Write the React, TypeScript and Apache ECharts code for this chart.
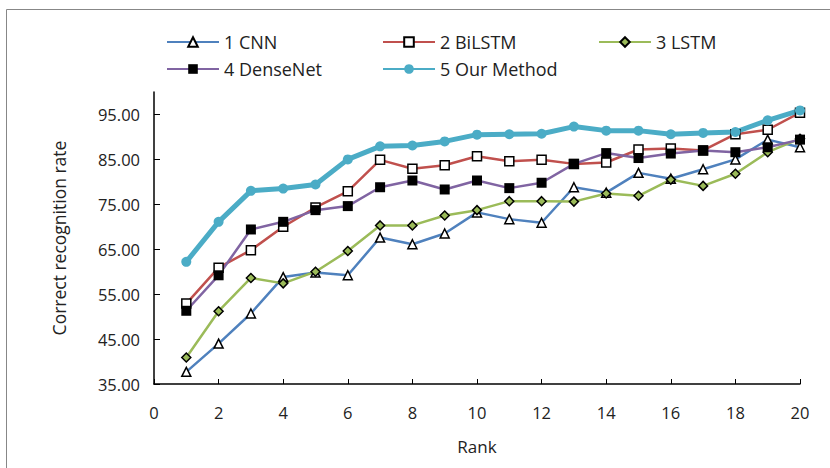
import React, { useEffect, useRef } from "react";
import * as echarts from "echarts";

const ranks = [1, 2, 3, 4, 5, 6, 7, 8, 9, 10, 11, 12, 13, 14, 15, 16, 17, 18, 19, 20];
const cnn = [37.7, 44.0, 50.7, 58.8, 59.8, 59.2, 67.6, 66.1, 68.5, 73.2, 71.7, 70.9, 78.8, 77.6, 82.0, 80.7, 82.8, 85.0, 89.4, 87.7];
const bilstm = [52.9, 60.9, 64.8, 70.0, 74.3, 77.9, 84.9, 82.9, 83.7, 85.7, 84.6, 84.9, 84.0, 84.3, 87.2, 87.4, 87.0, 90.6, 91.6, 95.4];
const lstm = [40.9, 51.2, 58.6, 57.4, 60.0, 64.6, 70.3, 70.3, 72.5, 73.7, 75.7, 75.7, 75.6, 77.4, 76.9, 80.5, 79.1, 81.8, 86.6, 89.6];
const densenet = [51.3, 59.2, 69.4, 71.1, 73.7, 74.6, 78.8, 80.3, 78.3, 80.3, 78.6, 79.8, 84.0, 86.4, 85.3, 86.3, 87.0, 86.6, 87.7, 89.4];
const ours = [62.2, 71.1, 78.0, 78.5, 79.4, 85.0, 87.9, 88.1, 89.0, 90.5, 90.6, 90.7, 92.3, 91.4, 91.4, 90.6, 90.9, 91.1, 93.7, 95.9];
const seriesNames = ["1 CNN", "2 BiLSTM", "3 LSTM", "4 DenseNet", "5 Our Method"];

const FONT = "Open Sans";

const pairs = (vals: number[]) => ranks.map((r, i) => [r, vals[i]]);

export default function App() {
  const ref = useRef<HTMLDivElement>(null);
  useEffect(() => {
    if (!ref.current) return;
    const chart = echarts.init(ref.current, undefined, { renderer: "svg" });
    const mk = (
      name: string,
      vals: number[],
      color: string,
      symbol: string,
      size: number,
      fill: string,
      border: string,
      lw: number
    ) => ({
      name,
      type: "line",
      data: pairs(vals),
      symbol,
      symbolSize: size,
      showAllSymbol: true,
      lineStyle: { color, width: lw },
      itemStyle: { color: fill, borderColor: border, borderWidth: border === fill ? 0 : 1.5 },
      z: 2,
    });
    const legendPos = [
      { left: 161, top: 28 },
      { left: 377, top: 28 },
      { left: 593, top: 28 },
      { left: 161, top: 55 },
      { left: 377, top: 55 },
    ];
    chart.setOption({
      animation: false,
      textStyle: { fontFamily: FONT },
      grid: { left: 154, right: 30, top: 92, bottom: 84 },
      legend: seriesNames.map((n, i) => ({
        data: [n],
        left: legendPos[i].left,
        top: legendPos[i].top,
        itemWidth: 52,
        itemHeight: 12,
        itemGap: 5,
        textStyle: { fontFamily: FONT, fontSize: 18, color: "#222" },
        selectedMode: false,
      })),
      xAxis: {
        type: "value",
        min: 0,
        max: 20,
        interval: 2,
        name: "Rank",
        nameLocation: "middle",
        nameGap: 54,
        nameTextStyle: { fontFamily: FONT, fontSize: 17, color: "#222" },
        axisLine: { show: true, lineStyle: { color: "#000", width: 1.5 } },
        axisTick: { show: true, inside: true, length: 5, lineStyle: { color: "#000", width: 1 } },
        axisLabel: { fontFamily: FONT, fontSize: 16.5, color: "#222", margin: 20 },
        splitLine: { show: false },
      },
      yAxis: {
        type: "value",
        min: 35,
        max: 100,
        interval: 10,
        name: "Correct recognition rate",
        nameLocation: "middle",
        nameGap: 86,
        nameRotate: 90,
        nameTextStyle: { fontFamily: FONT, fontSize: 17.5, color: "#222" },
        axisLine: { show: true, lineStyle: { color: "#000", width: 1.5 } },
        axisTick: { show: true, inside: true, length: 6, lineStyle: { color: "#000", width: 1 } },
        axisLabel: {
          fontFamily: FONT,
          fontSize: 16.5,
          color: "#222",
          margin: 14,
          showMaxLabel: false,
          formatter: (v: number) => (v >= 100 ? "" : v.toFixed(2)),
        },
        splitLine: { show: false },
      },
      graphic: [
        { type: "line", shape: { x1: 6.5, y1: 9.5, x2: 830, y2: 9.5 }, style: { stroke: "#878787", lineWidth: 1 } },
        { type: "line", shape: { x1: 6.5, y1: 9.5, x2: 6.5, y2: 468 }, style: { stroke: "#878787", lineWidth: 1 } },
      ],
      series: [
        mk(seriesNames[0], cnn, "#4F81BD", "triangle", 9, "#fff", "#000", 2.5),
        mk(seriesNames[1], bilstm, "#C0504D", "rect", 9, "#fff", "#000", 2.5),
        mk(seriesNames[2], lstm, "#9BBB59", "diamond", 9, "#9BBB59", "#000", 2.5),
        mk(seriesNames[3], densenet, "#8064A2", "rect", 10, "#000", "#000", 2.5),
        mk(seriesNames[4], ours, "#4BACC6", "circle", 10, "#4BACC6", "#4BACC6", 5),
      ],
    });
    return () => chart.dispose();
  }, []);
  return (
    <div
      ref={ref}
      style={{ position: "absolute", left: 0, top: 0, width: 830, height: 468, background: "#fff" }}
    />
  );
}
